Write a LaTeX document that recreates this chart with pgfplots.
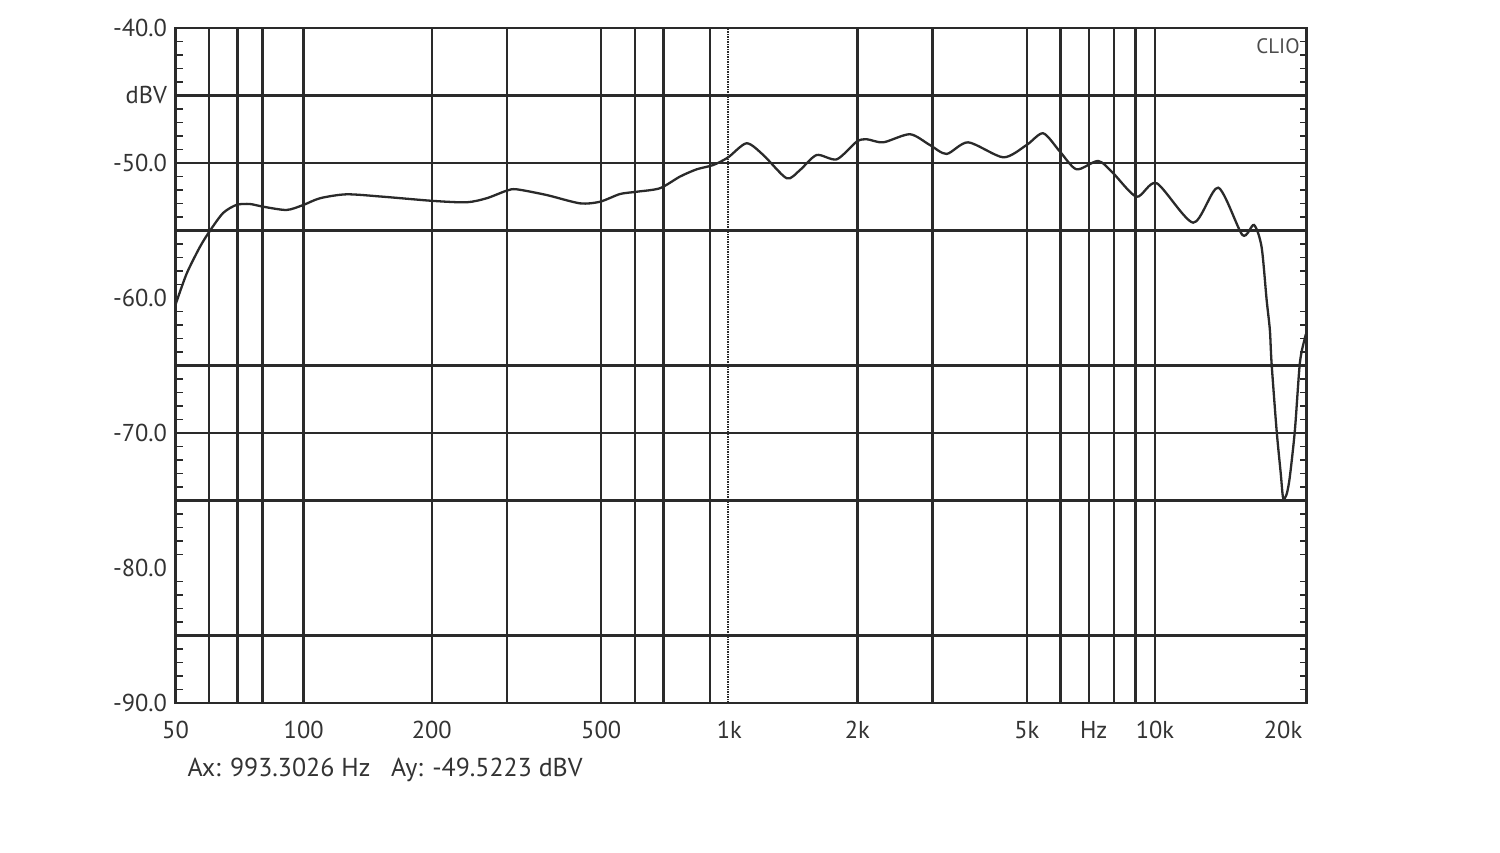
\documentclass[border=0pt]{standalone}
\usepackage{fontspec}
\setmainfont{PT Sans}
\usepackage{pgfplots}
\pgfplotsset{compat=1.18}
\definecolor{gridc}{HTML}{2A2A2A}
\definecolor{txtc}{HTML}{333333}
\begin{document}
\begin{tikzpicture}[x=1bp,y=1bp]
\useasboundingbox[fill=white] (0,0) rectangle (1500,852);
\begin{axis}[
  at={(175.5bp,149bp)}, anchor=south west,
  scale only axis, width=1131bp, height=675bp,
  xmode=log, xmin=50, xmax=22700, ymin=-90, ymax=-40,
  /pgf/number format/assume math mode=true,
  axis line style={line width=2.4bp, color=gridc},
  grid style={line width=2.4bp, color=gridc},
  xtick={60,70,80,100,200,300,500,600,700,900,2000,3000,5000,6000,7000,8000,9000,10000},
  xticklabels={},
  xmajorgrids, xminorticks=false,
  extra x ticks={50,100,200,500,1000,2000,5000,7180,10000,20000},
  extra x tick labels={50,100,200,500,1k,2k,5k,Hz,10k,20k},
  extra x tick style={grid=none},
  ytick={-45,-50,-55,-65,-70,-75,-85},
  yticklabels={},
  ymajorgrids,
  extra y ticks={-40,-45,-50,-60,-70,-80,-90},
  extra y tick labels={-40.0,dBV,-50.0,-60.0,-70.0,-80.0,-90.0},
  extra y tick style={grid=none},
  minor ytick={-89,-88,-87,-86,-84,-83,-82,-81,-79,-78,-77,-76,-74,-73,-72,-71,-69,-68,-67,-66,-64,-63,-62,-61,-59,-58,-57,-56,-54,-53,-52,-51,-49,-48,-47,-46,-44,-43,-42,-41},
  major tick length=0pt,
  minor tick length=7bp,
  tick align=inside,
  ytick pos=both, yticklabel pos=left,
  xtick pos=bottom,
  minor tick style={line width=1.8bp, color=gridc},
  tick label style={font=\fontsize{24.5}{24.5}\selectfont, text=txtc},
  yticklabel style={anchor=east, xshift=-5bp},
  xticklabel style={anchor=north, yshift=-15bp},
  clip=true,
]
\addplot[line width=2bp, color=gridc, dash pattern=on 1.5bp off 1bp] coordinates {(993.3026,-90) (993.3026,-40)};
\addplot[line width=2.3bp, color=gridc, smooth, tension=0.45] coordinates {
(50,-60.5) (53.1,-58.2) (57.1,-56.2) (60.3,-55.0) (64.7,-53.7) (69.6,-53.1)
(74.8,-53.04) (80.4,-53.24) (91.2,-53.48) (99.8,-53.11) (109.3,-52.61)
(126.2,-52.32) (153.9,-52.50) (201.7,-52.81) (241.6,-52.91) (269.2,-52.61)
(299.9,-52.05) (316.6,-51.95) (372,-52.37) (446,-52.99) (496.8,-52.87)
(553.5,-52.30) (606,-52.13) (687,-51.87) (765.6,-51.01) (838,-50.47)
(917,-50.15) (994,-49.58) (1098,-48.54) (1202,-49.41) (1364,-51.13)
(1466,-50.52) (1604,-49.41) (1788,-49.73) (1992,-48.42) (2102,-48.24)
(2300,-48.47) (2657,-47.87) (2960,-48.67) (3240,-49.33) (3642,-48.47)
(4403,-49.58) (4994,-48.67) (5463,-47.80) (5982,-49.16) (6544,-50.47)
(7358,-49.85) (7980,-50.76) (9057,-52.50) (10092,-51.50) (12300,-54.42)
(14080,-51.83) (16050,-55.33) (17080,-54.59) (17800,-56.2) (18300,-60.15)
(18620,-62.37) (18790,-64.81) (19310,-69.78) (19750,-73.0) (20010,-74.84)
(20400,-74.5) (20750,-73.2) (21320,-69.78) (21900,-64.81) (22500,-62.96)
(22700,-62.6)
};
\node[anchor=north east, font=\fontsize{21}{21}\selectfont, text=black!70] at (rel axis cs:0.997,0.99) {CLIO};
\end{axis}
\node[anchor=west, font=\fontsize{26}{26}\selectfont, text=txtc] at (184,82) {Ax: 993.3026 Hz\ \ \ Ay: -49.5223 dBV};
\end{tikzpicture}
\end{document}
